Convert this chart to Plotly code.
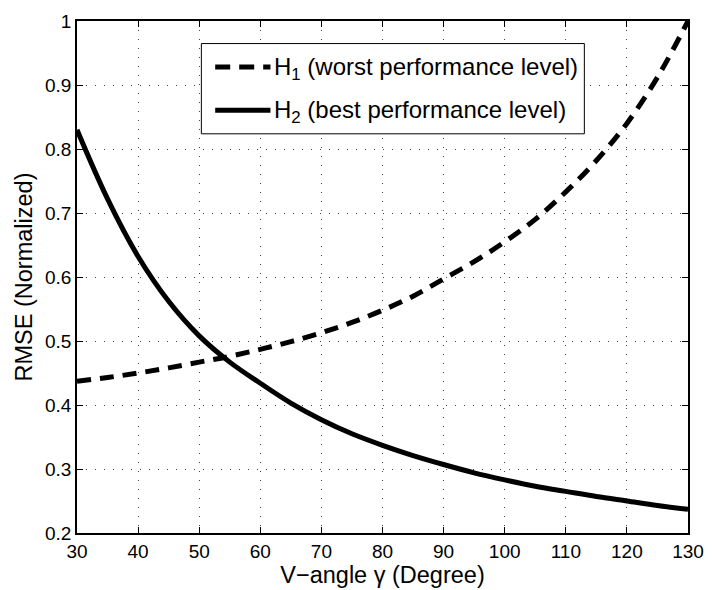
import plotly.graph_objects as go

# V-angle (degrees) and normalized RMSE for the two configurations
v_angle = [30, 35, 40, 45, 50, 55, 60, 65, 70, 75, 80, 85, 90, 95, 100,
           105, 110, 115, 120, 125, 130]
rmse_h1 = [0.437, 0.443, 0.450, 0.458, 0.467, 0.476, 0.487, 0.499, 0.513,
           0.529, 0.548, 0.570, 0.597, 0.624, 0.655, 0.690, 0.733, 0.782,
           0.840, 0.912, 1.000]
rmse_h2 = [0.830, 0.722, 0.632, 0.562, 0.508, 0.467, 0.434, 0.403, 0.377,
           0.355, 0.337, 0.321, 0.307, 0.294, 0.283, 0.273, 0.265, 0.257,
           0.250, 0.243, 0.237]

x_ticks = [30, 40, 50, 60, 70, 80, 90, 100, 110, 120, 130]
y_ticks = [0.2, 0.3, 0.4, 0.5, 0.6, 0.7, 0.8, 0.9, 1.0]
y_tick_text = ["0.2", "0.3", "0.4", "0.5", "0.6", "0.7", "0.8", "0.9", "1"]

legend_labels = ["H<sub>1</sub> (worst performance level)",
                 "H<sub>2</sub> (best performance level)"]

W, H = 715, 590
ML, MR, MT, MB = 77, 19, 11, 57
PW, PH = W - ML - MR, H - MT - MB

def px_x(p):
    return (p - ML) / PW

def px_y(p):
    return (H - MB - p) / PH

FONT = "Liberation Sans, Arial, Helvetica, sans-serif"
TICK_SIZE = 19
TITLE_SIZE = 23.5
LEGEND_SIZE = 24
DASH = "14px,9px"

fig = go.Figure()
fig.add_trace(go.Scatter(x=v_angle, y=rmse_h1, mode="lines", line_shape="spline",
                         line=dict(color="black", width=5, dash=DASH),
                         showlegend=False))
fig.add_trace(go.Scatter(x=v_angle, y=rmse_h2, mode="lines", line_shape="spline",
                         line=dict(color="black", width=5),
                         showlegend=False))

# boxed legend in the upper part of the axes
shapes = [
    dict(type="rect", xref="paper", yref="paper",
         x0=px_x(203), x1=px_x(591), y0=px_y(126), y1=px_y(34),
         line=dict(color="black", width=1), fillcolor="white", layer="above"),
    dict(type="line", xref="paper", yref="paper",
         x0=px_x(217), x1=px_x(273), y0=px_y(58), y1=px_y(58),
         line=dict(color="black", width=5, dash="15px,9px"), layer="above"),
    dict(type="line", xref="paper", yref="paper",
         x0=px_x(217), x1=px_x(273), y0=px_y(102), y1=px_y(102),
         line=dict(color="black", width=5), layer="above"),
]
annotations = [
    dict(text=legend_labels[0], xref="paper", yref="paper",
         x=px_x(275), y=px_y(59), xanchor="left", yanchor="middle",
         showarrow=False, font=dict(family=FONT, size=LEGEND_SIZE, color="black")),
    dict(text=legend_labels[1], xref="paper", yref="paper",
         x=px_x(275), y=px_y(103), xanchor="left", yanchor="middle",
         showarrow=False, font=dict(family=FONT, size=LEGEND_SIZE, color="black")),
]

axis_common = dict(
    showline=True, linecolor="black", linewidth=1.5, mirror="ticks",
    ticks="inside", ticklen=6, tickcolor="black", tickwidth=1,
    showgrid=True, gridcolor="#444", gridwidth=1, griddash="1px,8px",
    zeroline=False, tickfont=dict(family=FONT, size=TICK_SIZE, color="black"),
)

fig.update_layout(
    width=W, height=H,
    margin=dict(l=ML, r=MR, t=MT, b=MB),
    paper_bgcolor="white", plot_bgcolor="white",
    font=dict(family=FONT, size=TICK_SIZE, color="black"),
    shapes=shapes, annotations=annotations,
    xaxis=dict(range=[30, 130], tickvals=x_ticks,
               title=dict(text="V\u2212angle \u03b3 (Degree)", standoff=0,
                          font=dict(family=FONT, size=TITLE_SIZE)),
               **axis_common),
    yaxis=dict(range=[0.2, 1.0], tickvals=y_ticks, ticktext=y_tick_text,
               title=dict(text="RMSE (Normalized)", standoff=6,
                          font=dict(family=FONT, size=TITLE_SIZE)),
               **axis_common),
)

fig.write_html("out.html")
